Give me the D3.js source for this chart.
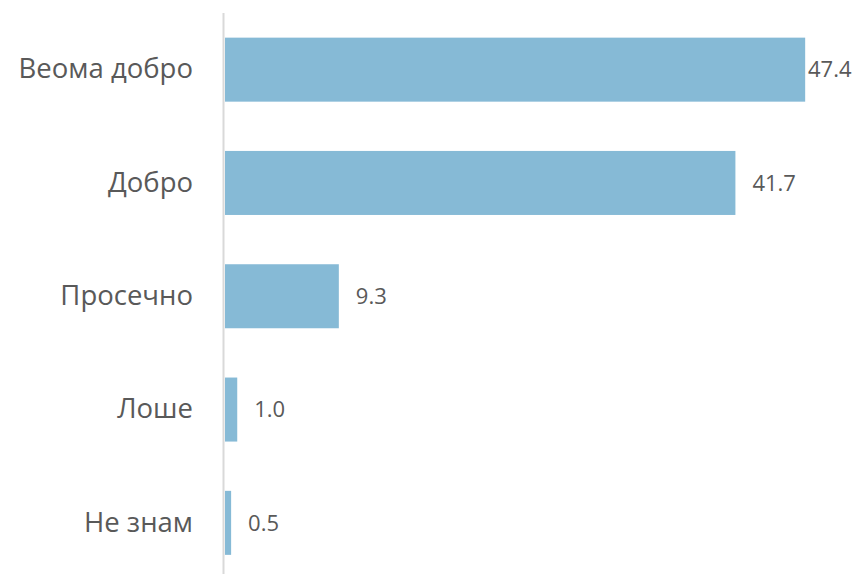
<!DOCTYPE html>
<html>
<head>
<meta charset="utf-8">
<script src="https://cdn.jsdelivr.net/npm/d3@7"></script>
<style>
  body { margin: 0; background: #fff; }
  text { font-family: "Open Sans", sans-serif; fill: #595959; }
</style>
</head>
<body>
<svg id="chart"></svg>
<script>
// data
var categories = ['Веома добро', 'Добро', 'Просечно', 'Лоше', 'Не знам'];
var values = [47.4, 41.7, 9.3, 1.0, 0.5];

var width = 859;
var height = 574;

var svg = d3.select('#chart')
  .attr('width', width)
  .attr('height', height);

// scales
var x = d3.scaleLinear().domain([0, 50]).range([225, 837]);
var y = d3.scaleBand()
  .domain(categories)
  .range([13, 579.5])
  .paddingInner(0.435)
  .paddingOuter(0.2175);

// bars
svg.selectAll('rect.bar')
  .data(values)
  .enter()
  .append('rect')
    .attr('class', 'bar')
    .attr('x', x(0))
    .attr('y', function(d, i) { return y(categories[i]); })
    .attr('width', function(d) { return x(d) - x(0); })
    .attr('height', y.bandwidth())
    .style('fill', '#86bad6');

// value labels
svg.selectAll('text.value')
  .data(values)
  .enter()
  .append('text')
    .attr('class', 'value')
    .attr('x', function(d) { return Math.min(x(d) + 17, 808); })
    .attr('y', function(d, i) { return y(categories[i]) + y.bandwidth() / 2; })
    .attr('dy', '0.35em')
    .style('font-size', '22px')
    .text(function(d) { return d.toFixed(1); });

// axis line
svg.append('line')
  .attr('x1', 223.5).attr('x2', 223.5)
  .attr('y1', 13).attr('y2', height)
  .style('stroke', '#d9d9d9')
  .style('stroke-width', 2);

// category labels
var yAxis = svg.append('g')
  .attr('transform', 'translate(193,0)')
  .call(d3.axisLeft(y).tickSize(0).tickPadding(0));
yAxis.select('.domain').remove();
yAxis.selectAll('text')
  .style('font-size', '27.5px')
  .style('fill', '#595959')
  .style('font-family', '"Open Sans", sans-serif');
</script>
</body>
</html>
